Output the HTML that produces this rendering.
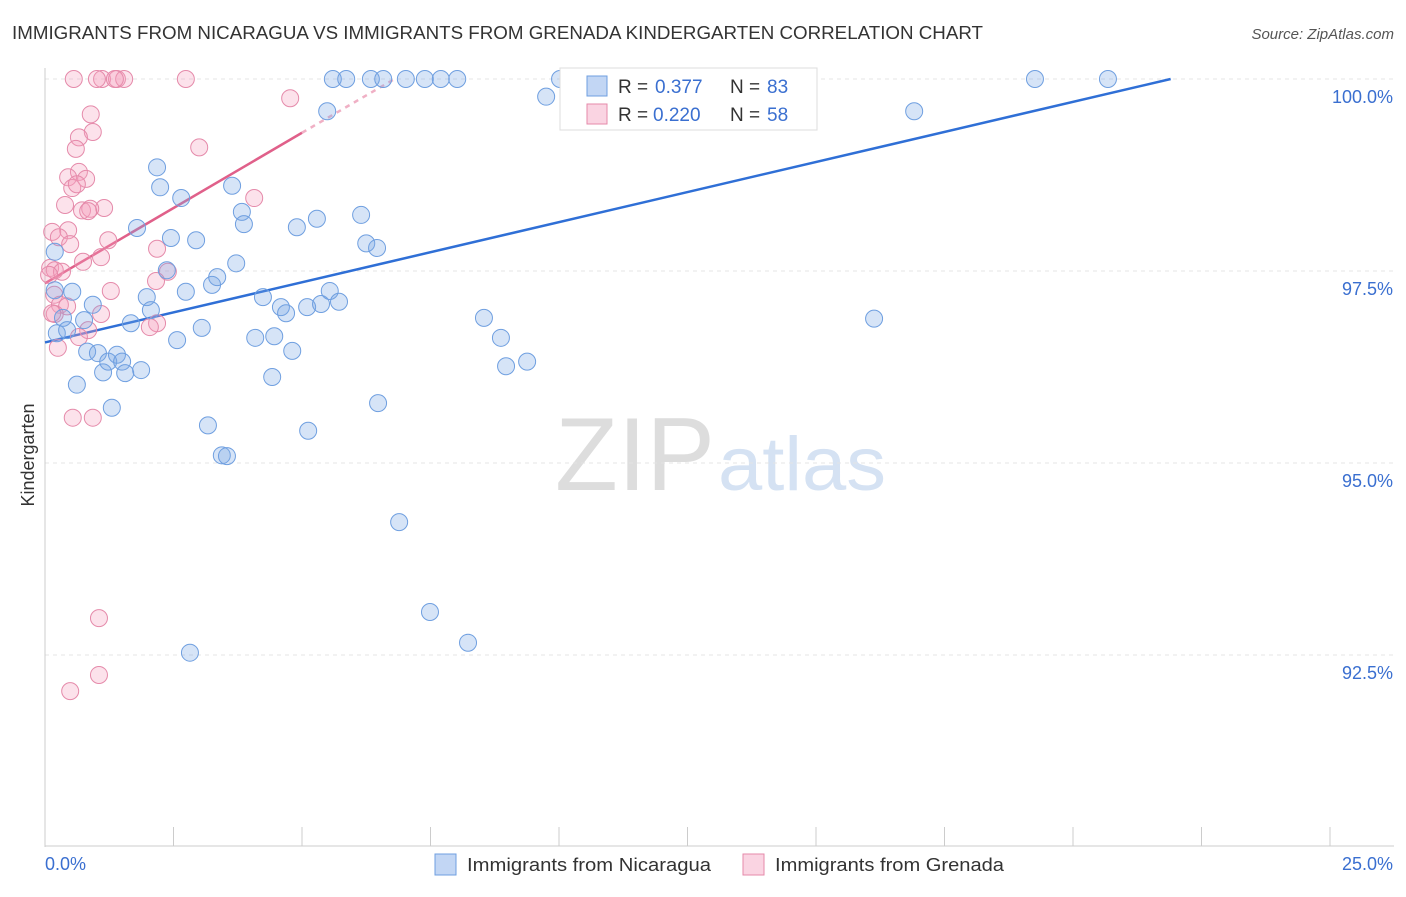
<!DOCTYPE html>
<html><head><meta charset="utf-8"><style>
body{margin:0;background:#fff;font-family:"Liberation Sans",sans-serif}
svg text{font-family:"Liberation Sans",sans-serif}
</style></head><body>
<svg id="c" width="1406" height="892">
<text x="12" y="39" font-size="18" fill="#333" textLength="971" lengthAdjust="spacingAndGlyphs">IMMIGRANTS FROM NICARAGUA VS IMMIGRANTS FROM GRENADA KINDERGARTEN CORRELATION CHART</text>
<text x="1394" y="39" font-size="15" fill="#555" font-style="italic" text-anchor="end">Source: ZipAtlas.com</text>
<text x="34" y="455" font-size="18" fill="#333" text-anchor="middle" transform="rotate(-90 34 455)">Kindergarten</text>
<text x="555" y="490" font-size="104" fill="#ddd" textLength="160" lengthAdjust="spacingAndGlyphs" font-family="Liberation Serif">ZIP</text>
<text x="718" y="490" font-size="76" fill="#d5e2f3" textLength="168" lengthAdjust="spacingAndGlyphs">atlas</text>
<g id="grid"></g><g id="axes"></g><g id="trend"></g><g id="pts"></g>
<g>
<rect x="560" y="68" width="257" height="62" fill="#fff" stroke="#ddd"/>
<rect x="587" y="76" width="20" height="20" fill="rgba(120,165,230,0.45)" stroke="#6f9fe0"/>
<text x="618" y="93" font-size="19" fill="#333">R = </text><text x="655" y="93" font-size="19" fill="#3a6fd0">0.377</text>
<text x="730" y="93" font-size="19" fill="#333">N = </text><text x="767" y="93" font-size="19" fill="#3a6fd0">83</text>
<rect x="587" y="104" width="20" height="20" fill="rgba(245,160,190,0.45)" stroke="#e58aaa"/>
<text x="618" y="121" font-size="19" fill="#333">R = </text><text x="653" y="121" font-size="19" fill="#3a6fd0">0.220</text>
<text x="730" y="121" font-size="19" fill="#333">N = </text><text x="767" y="121" font-size="19" fill="#3a6fd0">58</text>
</g>
<g>
<rect x="435" y="854" width="21" height="21" fill="rgba(120,165,230,0.45)" stroke="#6f9fe0"/>
<text x="467" y="871" font-size="18" fill="#333" textLength="244" lengthAdjust="spacingAndGlyphs">Immigrants from Nicaragua</text>
<rect x="743" y="854" width="21" height="21" fill="rgba(245,160,190,0.45)" stroke="#e58aaa"/>
<text x="775" y="871" font-size="18" fill="#333" textLength="229" lengthAdjust="spacingAndGlyphs">Immigrants from Grenada</text>
</g>
</svg>
<script>
const xTicks=[0,2.5,5,7.5,10,12.5,15,17.5,20,22.5,25];
const yTicks=[92.5,95,97.5,100];
const yTickLabels=["92.5%","95.0%","97.5%","100.0%"];
const blueX=[0.23,0.19,0.35,0.53,0.43,0.62,0.76,0.82,0.93,1.03,1.13,1.23,1.30,1.40,1.50,1.56,1.67,1.79,1.87,1.98,2.06,2.18,2.24,2.37,2.45,2.57,2.65,2.74,2.94,3.05,3.17,3.25,3.35,3.44,3.54,3.64,3.72,3.83,3.87,4.09,4.24,4.42,4.46,4.59,4.69,4.81,4.90,5.12,5.10,5.29,5.37,5.49,5.54,5.60,5.72,5.86,6.15,6.25,6.34,6.46,6.48,6.58,6.89,7.02,7.39,7.49,7.70,8.02,8.23,8.54,8.87,8.97,9.38,9.75,10.02,10.74,11.96,16.13,16.91,19.26,20.68,2.82,0.19];
const blueY=[96.69,97.25,96.89,97.23,96.73,96.02,96.86,96.45,97.06,96.43,96.18,96.32,95.72,96.41,96.32,96.17,96.82,98.06,96.21,97.16,96.99,98.85,98.59,97.51,97.93,96.60,98.45,97.23,97.90,96.76,95.49,97.32,97.42,95.10,95.09,98.61,97.60,98.27,98.11,96.63,97.16,96.12,96.65,97.03,96.95,96.46,98.07,95.42,97.03,98.18,97.07,99.58,97.24,100,97.10,100,98.23,97.86,100,97.80,95.78,100,94.23,100,100,93.06,100,100,92.66,96.89,96.63,96.26,96.32,99.77,100,99.96,100,96.88,99.58,100,100,92.53,97.75];
const pinkX=[0.56,1.11,1.01,1.40,1.54,1.36,2.74,4.77,0.89,0.93,0.66,0.60,3.00,0.66,0.45,0.80,0.53,0.62,0.39,1.15,0.72,0.88,0.84,4.07,0.45,0.14,0.27,1.23,0.49,2.18,1.09,0.74,2.39,0.10,0.19,0.33,0.08,1.28,2.16,0.18,0.29,0.43,1.09,0.19,0.14,2.18,0.84,2.04,0.66,0.25,0.54,0.93,1.05,1.05,0.49];
const pinkY=[100,100,100,100,100,100,100,99.75,99.54,99.31,99.24,99.09,99.11,98.79,98.72,98.70,98.58,98.63,98.36,98.32,98.29,98.31,98.28,98.45,98.03,98.01,97.94,97.90,97.85,97.79,97.68,97.62,97.49,97.54,97.51,97.49,97.45,97.24,97.37,97.19,97.06,97.04,96.94,96.94,96.95,96.82,96.73,96.77,96.64,96.50,95.59,95.59,92.98,92.24,92.03];
const blueTrend=[[0,96.57],[21.9,100]];
const pinkTrend=[[0,97.34],[5.0,99.3]];
const pinkDash=[[5.0,99.3],[6.8,100]];
const NS="http://www.w3.org/2000/svg";
const sx=v=>45+v*51.4, sy=v=>79+(100-v)*76.8;
function mk(t,a,p){const e=document.createElementNS(NS,t);for(const k in a)e.setAttribute(k,a[k]);document.getElementById(p).appendChild(e);return e;}
yTicks.forEach((v,i)=>{
 const l=mk('line',{x1:45,x2:1394,y1:sy(v),y2:sy(v),stroke:'#e4e4e4','stroke-dasharray':'4 4'},'grid');
 
 
 const t=mk('text',{x:1393,y:sy(v)+24,'font-size':18,fill:'#3a6fd0','text-anchor':'end'},'axes');t.textContent=yTickLabels[i];
 
 
});
mk('line',{x1:45,x2:45,y1:68,y2:847,stroke:'#ccc'},'axes');
mk('line',{x1:45,x2:1394,y1:846,y2:846,stroke:'#ccc'},'axes');
xTicks.forEach(v=>{const l=mk('line',{x1:sx(v),x2:sx(v),y1:827,y2:846,stroke:'#ccc'},'axes');
 
 });
let t=mk('text',{x:45,y:870,'font-size':18,fill:'#3a6fd0'},'axes');t.textContent='0.0%';


t=mk('text',{x:1393,y:870,'font-size':18,fill:'#3a6fd0','text-anchor':'end'},'axes');t.textContent='25.0%';


function line(d,c,dash,n){const l=mk('line',{x1:sx(d[0][0]),y1:sy(d[0][1]),x2:sx(d[1][0]),y2:sy(d[1][1]),stroke:c,'stroke-width':2.5},'trend');if(dash)l.setAttribute('stroke-dasharray','5 5');
 
 }
line(blueTrend,'#2f6fd6',false,'nicaragua-trendline');
line(pinkTrend,'#e0608a',false,'grenada-trendline');
line(pinkDash,'#f0b0c5',true,'grenada-trendline-extension');
function pts(X,Y,f,s,n){X.forEach((x,i)=>{const c=mk('circle',{cx:sx(x),cy:sy(Y[i]),r:8.5,fill:f,stroke:s,'stroke-width':1},'pts');
 
 });}
pts(pinkX,pinkY,'rgba(245,160,190,0.3)','#e58aaa','grenada-point');
pts(blueX,blueY,'rgba(120,165,230,0.3)','#6f9fe0','nicaragua-point');
</script>
</body></html>
